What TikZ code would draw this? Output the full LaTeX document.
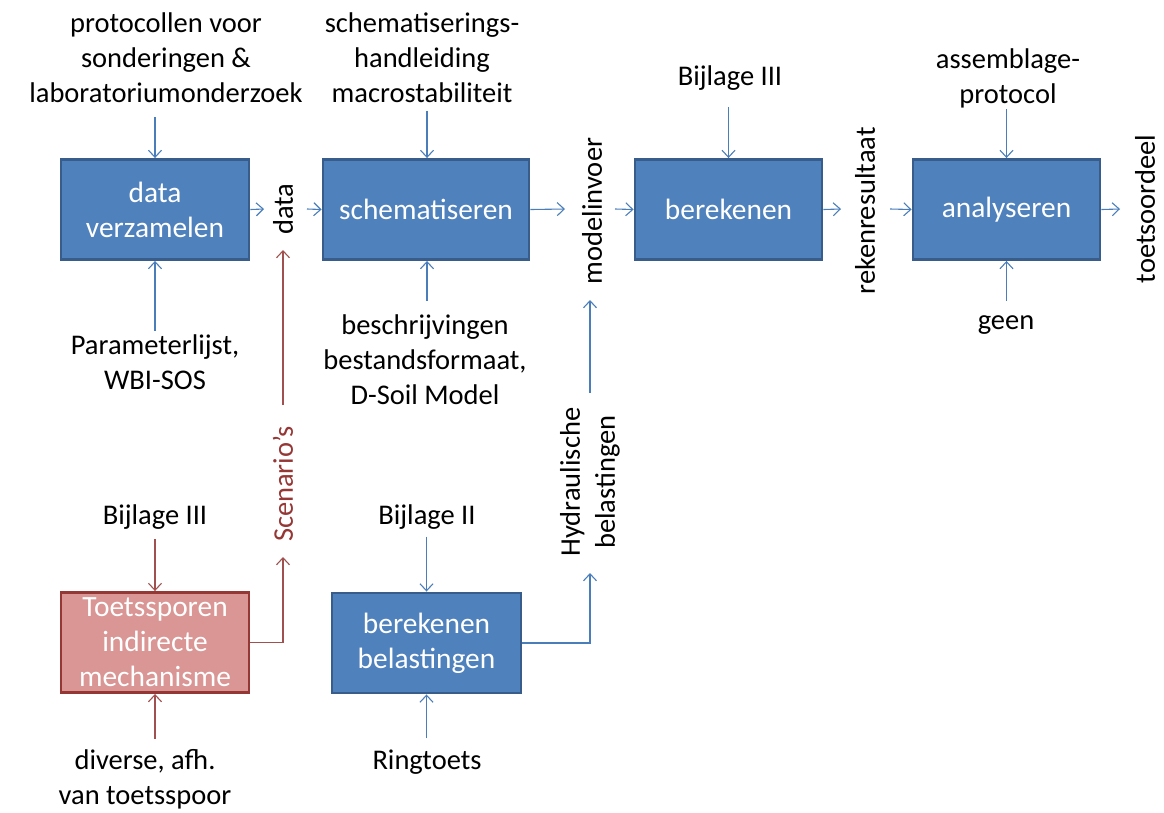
\documentclass[tikz,border=0pt]{standalone}
\usepackage{fontspec}
\setmainfont{Carlito}
\usetikzlibrary{arrows.meta}
\definecolor{bfill}{HTML}{4F81BD}
\definecolor{bdraw}{HTML}{385D8A}
\definecolor{barr}{HTML}{4A7EBB}
\definecolor{rfill}{HTML}{D99694}
\definecolor{rdraw}{HTML}{953735}
\definecolor{rarr}{HTML}{A0504E}
\begin{document}
\begin{tikzpicture}[x=1pt,y=-1pt,
  font=\fontsize{28.5}{35}\selectfont,
  box/.style={draw=bdraw, fill=bfill, line width=2.9pt, text=white, align=center,
    minimum width=188pt, minimum height=100pt, inner sep=0pt,
    font=\fontsize{29.4}{35}\selectfont},
  rbox/.style={box, draw=rdraw, fill=rfill},
  arr/.style={draw=barr, line width=1.1pt, -{Straight Barb[length=7pt,width=13pt]}},
  rarw/.style={arr, draw=rarr},
  lbl/.style={align=center, inner sep=0pt},
  vlbl/.style={align=center, inner sep=0pt, rotate=90}]
\useasboundingbox (0,0) rectangle (1164,812);

% boxes
\node[box] (b1) at (155,209.5) {data\\verzamelen};
\node[box, minimum width=206pt] (b2) at (426,209.5) {schematiseren};
\node[box, minimum width=187pt] (b3) at (728.5,209.5) {berekenen};
\node[box, minimum width=187pt] (b4) at (1006.5,209.5) {analyseren};
\node[rbox] (b5) at (155,642.5) {Toetssporen\\indirecte\\mechanisme};
\node[box, minimum width=189pt] (b6) at (426.5,643) {berekenen\\belastingen};

% labels
\node[lbl] (l1) at (166,58) {protocollen voor\\sonderingen \&\\laboratoriumonderzoek};
\node[lbl] (l2) at (422,58) {schematiserings-\\handleiding\\macrostabiliteit};
\node[lbl] (l3) at (730,78) {Bijlage III};
\node[lbl] (l4) at (1008,78) {assemblage-\\protocol};
\node[lbl] (l5) at (155,362) {Parameterlijst,\\WBI-SOS};
\node[lbl] (l6) at (425,360) {beschrijvingen\\bestandsformaat,\\D-Soil Model};
\node[lbl] (l7) at (1006,325) {geen};
\node[lbl] (l8) at (155,517) {Bijlage III};
\node[lbl] (l9) at (145,779) {diverse, afh.\\van toetsspoor};
\node[lbl] (l10) at (427,517) {Bijlage II};
\node[lbl] (l11) at (427,762) {Ringtoets};

\node[vlbl] (data) at (283,209) {data};
\node[vlbl] (mi) at (592,211) {modelinvoer};
\node[vlbl] (rr) at (865,211) {rekenresultaat};
\node[vlbl] (to) at (1145,209) {toetsoordeel};
\node[vlbl, text=rdraw] (sc) at (283,484) {Scenario’s};
\node[vlbl] (hb) at (590,482) {Hydraulische\\belastingen};

% arrow helper coordinates
\coordinate (dIn) at (264,209);
\coordinate (dOut) at (307,209);
\coordinate (mIn) at (565,209);
\coordinate (mOut) at (615,209);
\coordinate (rIn) at (841,209);
\coordinate (rOut) at (890,209);
\coordinate (tIn) at (1120,209);
\coordinate (scBend) at (283,642.5);
\coordinate (scTip) at (283,557);
\coordinate (scTop) at (283,405);
\coordinate (dBot) at (283,250);
\coordinate (hbBend) at (590,643);
\coordinate (hbTip) at (590,573);
\coordinate (hbTop) at (590,393);
\coordinate (mBot) at (590,300);

% main chain
\draw[arr] (b1.east) -- (dIn);
\draw[arr] (dOut) -- (b2.west);
\draw[arr] (b2.east) -- (mIn);
\draw[arr] (mOut) -- (b3.west);
\draw[arr] (b3.east) -- (rIn);
\draw[arr] (rOut) -- (b4.west);
\draw[arr] (b4.east) -- (tIn);

% top inputs
\draw[arr] ([yshift=41pt]b1.north) -- (b1.north);
\draw[arr] ([xshift=1pt,yshift=47pt]b2.north) -- ([xshift=1pt]b2.north);
\draw[arr] ([yshift=51pt]b3.north) -- (b3.north);
\draw[arr] ([yshift=49pt]b4.north) -- (b4.north);

% bottom inputs
\draw[arr] ([yshift=-70pt]b1.south) -- (b1.south);
\draw[arr] ([xshift=1pt,yshift=-40pt]b2.south) -- ([xshift=1pt]b2.south);
\draw[arr] ([yshift=-40pt]b4.south) -- (b4.south);

% lower boxes
\draw[rarw] ([yshift=52pt]b5.north) -- (b5.north);
\draw[rarw] ([yshift=-45pt]b5.south) -- (b5.south);
\draw[arr] ([yshift=55pt]b6.north) -- (b6.north);
\draw[arr] ([yshift=-44pt]b6.south) -- (b6.south);

% scenario's path
\draw[rarw] (b5.east) -- (scBend) -- (scTip);
\draw[rarw] (scTop) -- (dBot);

% hydraulische belastingen path
\draw[arr] (b6.east) -- (hbBend) -- (hbTip);
\draw[arr] (hbTop) -- (mBot);
\end{tikzpicture}
\end{document}
